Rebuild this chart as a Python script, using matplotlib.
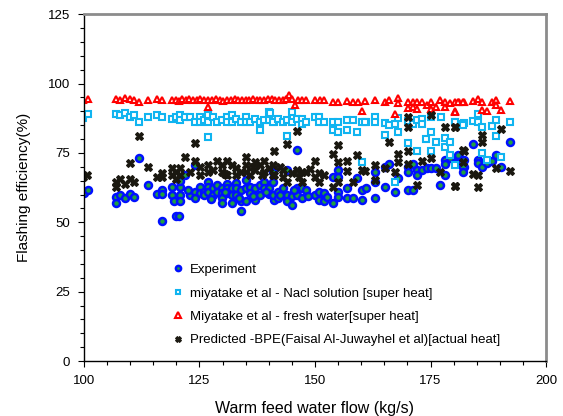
import matplotlib
matplotlib.use("Agg")
import matplotlib.pyplot as plt
from matplotlib.ticker import MultipleLocator

plt.rcParams['font.family'] = ['Liberation Sans', 'DejaVu Sans']

# Experiment
exp_x = [100.0, 100.8, 106.9, 106.9, 107.9, 109.0, 110.0, 110.9, 112.0, 113.9, 115.9, 116.9,
         116.9, 116.9, 119.0, 119.0, 119.9, 120.5, 119.5, 120.8, 120.8, 120.8, 120.8, 121.9, 122.9,
         124.0, 124.0, 124.0, 125.1, 125.1, 126.0, 126.0, 126.9, 126.9, 126.9, 128.0,
         128.0, 128.9, 128.9, 129.9, 129.9, 129.9, 129.9, 131.0, 131.0, 131.0, 132.0,
         132.0, 132.0, 133.0, 133.0, 133.0, 134.0, 134.0, 134.0, 135.1, 135.1, 135.1,
         135.9, 135.9, 137.0, 137.0, 138.1, 138.1, 139.0, 139.0, 140.1, 140.1, 141.1,
         141.0, 141.0, 141.0, 142.1, 142.1, 143.1, 143.1, 144.0, 144.0, 144.0,
         145.0, 145.0, 146.0, 146.0, 146.0, 147.1, 147.1, 148.1, 150.0, 150.9, 150.9,
         151.9, 151.9, 154.0, 154.0, 155.0, 155.0, 155.0, 155.0, 157.0, 157.0, 158.2,
         159.0, 160.1, 160.1, 161.0, 163.0, 163.0, 163.0, 165.2, 165.2, 166.0, 167.2,
         168.0, 170.1, 170.1, 170.1, 171.1, 171.1, 172.1, 172.1, 173.1, 174.2, 175.1,
         176.2, 177.1, 178.1, 178.1, 178.1, 179.2, 180.2, 181.2, 182.3, 182.3, 184.1,
         181.0, 182.1, 182.1, 185.2, 185.2, 186.2, 187.2, 188.2, 189.1, 190.2, 192.1,
         122.5, 127.5, 130.5, 133.5, 136.5, 139.5, 142.5, 145.5, 148.5, 152.5]
exp_y = [60.5, 61.6, 59.0, 56.9, 59.7, 58.7, 60.2, 59.0, 73.1, 63.5, 60.2, 61.7,
         60.2, 50.3, 62.9, 59.7, 52.1, 52.1, 57.8, 62.9, 59.7, 57.5, 64.8, 66.9, 59.7,
         70.5, 60.9, 58.7, 62.7, 60.5, 61.1, 59.7, 64.7, 62.7, 60.9, 62.3,
         59.7, 63.5, 61.1, 62.3, 60.5, 58.7, 56.9, 63.8, 62.3, 60.5, 62.3,
         60.0, 56.9, 64.1, 62.3, 60.0, 61.7, 57.5, 54.1, 65.3, 62.3, 57.5,
         62.9, 60.5, 62.3, 58.1, 63.5, 60.0, 64.7, 62.3, 62.3, 60.2, 58.1,
         68.3, 64.7, 60.0, 61.1, 58.7, 62.3, 60.0, 68.9, 60.0, 57.5,
         59.4, 56.3, 76.1, 62.3, 60.0, 62.3, 58.7, 61.7, 60.0, 61.1, 58.1,
         60.5, 57.5, 66.5, 56.9, 68.9, 66.5, 61.1, 59.0, 62.3, 58.7, 58.7,
         65.9, 61.7, 58.1, 62.3, 68.3, 64.4, 58.7, 70.1, 62.9, 71.0, 61.1,
         65.9, 70.1, 68.3, 61.7, 71.0, 61.7, 68.9, 66.9, 68.9, 69.5, 69.5,
         69.5, 63.3, 72.5, 71.0, 67.1, 73.1, 71.3, 73.7, 72.5, 70.1, 78.2,
         74.1, 70.1, 68.3, 72.5, 71.3, 70.1, 71.3, 72.1, 74.1, 70.1, 79.1,
         61.5, 58.5, 61.0, 58.8, 59.5, 61.0, 59.8, 61.8, 59.5, 59.2]

# miyatake et al - Nacl solution
nacl_x = [99.9, 100.9, 106.9, 107.9, 109.0, 110.0, 110.9, 112.0, 113.9, 115.9, 116.9, 119.0,
          119.9, 120.8, 120.8, 121.9, 122.9, 124.0, 125.1, 125.1, 126.0, 126.9, 126.9, 128.0,
          128.9, 129.9, 131.0, 131.0, 132.0, 132.0, 133.0, 134.0, 135.1, 135.1, 135.9, 137.0,
          138.1, 138.1, 139.0, 140.1, 140.1, 141.1, 126.9, 140.3, 141.0, 142.1, 143.1, 144.0,
          145.0, 145.0, 146.0, 147.1, 147.1, 148.1, 150.0, 150.9, 150.9, 151.9, 154.0, 154.0,
          155.0, 155.0, 157.0, 157.0, 158.2, 159.0, 160.1, 161.0, 144.0, 160.1, 160.8, 163.0,
          163.0, 165.2, 166.0, 167.2, 168.0, 168.0, 165.2, 170.1, 171.1, 172.1, 173.1, 173.1,
          175.1, 175.1, 174.0, 176.2, 177.3, 178.1, 178.1, 179.2, 180.2, 181.2, 182.3, 170.1,
          172.1, 175.1, 179.2, 180.2, 167.2, 180.3, 182.1, 184.1, 185.2, 185.2, 186.2, 188.2,
          189.1, 189.1, 192.1, 186.2, 187.2, 190.2]
nacl_y = [87.5, 89.0, 89.0, 88.5, 89.3, 87.8, 88.5, 86.1, 88.1, 88.5, 87.8, 87.3,
          88.1, 88.7, 86.9, 87.8, 88.1, 86.3, 88.1, 86.3, 86.9, 88.5, 86.3, 87.8,
          86.3, 86.9, 87.8, 86.3, 88.7, 86.3, 87.3, 86.3, 87.8, 86.3, 86.3, 87.3,
          83.3, 86.3, 86.9, 89.7, 86.9, 86.3, 80.6, 89.3, 86.3, 87.3, 86.3, 86.9,
          89.9, 86.3, 87.3, 87.3, 85.4, 86.3, 87.8, 87.8, 86.1, 86.3, 86.3, 83.3,
          86.3, 82.7, 86.9, 83.3, 86.9, 82.7, 86.3, 86.3, 81.0, 71.7, 86.3, 87.8,
          86.3, 85.7, 85.1, 85.4, 87.5, 82.7, 81.5, 86.6, 85.4, 86.9, 87.3, 85.4,
          87.8, 82.5, 80.1, 78.9, 87.8, 80.3, 77.3, 79.1, 86.3, 85.4, 85.7, 78.5,
          75.8, 75.8, 74.3, 70.5, 64.5, 86.3, 85.1, 86.6, 89.0, 86.3, 84.4, 84.8,
          86.9, 81.0, 86.1, 75.0, 72.5, 73.7]

# Miyatake et al - fresh water
fresh_x = [99.9, 100.9, 106.9, 107.9, 109.0, 110.0, 110.9, 112.0, 113.9, 115.9, 116.9, 119.0,
           119.9, 120.5, 121.2, 122.0, 122.8, 123.6, 124.4, 125.2, 126.0, 126.9, 126.9, 127.8,
           128.6, 129.4, 130.2, 131.0, 131.8, 132.6, 133.4, 134.2, 135.0, 135.8, 136.6, 137.4,
           138.2, 139.0, 139.8, 140.6, 141.4, 142.2, 143.0, 143.8, 144.4, 145.0, 145.6, 146.4,
           147.2, 148.0, 150.0, 151.0, 152.0, 154.0, 155.0, 157.0, 158.2, 159.2, 160.1, 160.8,
           163.0, 165.2, 166.0, 167.2, 168.0, 168.0, 170.1, 170.1, 171.1, 171.1, 172.1, 172.1,
           173.1, 174.2, 175.1, 175.1, 176.2, 177.1, 178.1, 178.1, 179.2, 180.2, 181.2, 182.3,
           180.3, 181.0, 182.1, 184.1, 185.2, 186.2, 186.2, 187.2, 188.2, 189.1, 189.1, 190.2,
           192.1, 180.3]
fresh_y = [94.1, 94.5, 94.5, 94.1, 94.7, 94.5, 94.1, 93.5, 94.1, 94.5, 94.1, 94.1,
           94.1, 93.8, 94.3, 94.0, 94.4, 94.1, 93.9, 94.3, 94.0, 94.2, 91.7, 94.0,
           94.3, 94.0, 93.8, 94.2, 94.0, 94.4, 94.0, 94.2, 93.9, 94.1, 94.3, 93.9,
           94.1, 94.0, 94.3, 94.5, 94.0, 94.2, 93.9, 94.4, 95.7, 94.3, 92.3, 94.0,
           94.2, 93.9, 94.1, 94.1, 94.1, 93.3, 93.3, 93.8, 93.3, 93.5, 90.2, 93.8,
           94.1, 93.5, 94.1, 89.0, 94.7, 92.9, 93.5, 91.1, 93.5, 91.7, 93.3, 90.9,
           93.5, 92.3, 93.5, 90.9, 91.7, 94.1, 93.5, 91.7, 92.9, 90.0, 93.5, 93.5,
           93.3, 93.3, 93.5, 93.8, 94.5, 93.5, 90.5, 90.2, 93.3, 94.1, 92.3, 90.5,
           93.8, 89.7]

# Predicted -BPE(Faisal Al-Juwayhel et al)
pred_x = [99.9, 100.7, 106.9, 106.9, 107.9, 109.0, 110.0, 110.0, 110.9, 112.0, 113.9, 115.9,
          116.9, 116.9, 119.0, 119.0, 119.9, 119.9, 124.0, 121.9, 124.0, 120.8, 120.8, 122.9,
          125.1, 125.1, 126.9, 126.9, 128.9, 129.9, 129.9, 131.0, 131.0, 132.0, 133.0, 133.0,
          135.1, 135.1, 135.1, 135.9, 137.0, 137.0, 138.1, 139.0, 139.0, 140.1, 141.1, 141.1,
          146.0, 141.0, 144.0, 141.0, 143.1, 143.1, 144.0, 145.0, 146.0, 147.1, 147.1, 148.1,
          150.0, 150.0, 150.9, 150.9, 151.9, 154.0, 154.0, 155.0, 155.0, 155.0, 157.0, 157.0,
          158.2, 159.0, 160.1, 170.1, 170.1, 175.1, 178.1, 180.2, 166.0, 168.0, 168.0, 170.1,
          170.1, 173.1, 175.1, 160.8, 163.0, 163.0, 165.2, 167.2, 172.1, 177.1, 180.2, 182.3,
          180.3, 186.1, 186.1, 182.1, 182.1, 184.1, 185.2, 185.2, 189.1, 190.2, 192.1, 180.3,
          128.0, 130.5, 134.0, 136.5, 138.6, 142.5, 146.5, 149.0]
pred_y = [66.2, 66.9, 64.5, 62.9, 65.7, 63.8, 71.3, 65.7, 64.5, 81.2, 69.8, 66.2,
          67.7, 66.2, 69.5, 66.9, 68.3, 65.7, 78.5, 73.7, 72.2, 69.5, 66.9, 68.1,
          69.8, 66.9, 70.5, 68.3, 72.2, 70.7, 68.3, 72.2, 66.9, 70.7, 69.5, 66.9,
          73.7, 70.7, 68.3, 66.9, 71.7, 68.9, 70.5, 72.2, 68.3, 69.5, 75.8, 66.9,
          83.0, 70.5, 78.2, 66.9, 68.9, 66.5, 64.7, 67.7, 68.9, 68.1, 64.5, 68.3,
          72.2, 66.2, 67.7, 64.7, 66.9, 74.6, 62.9, 77.7, 71.7, 64.7, 72.2, 68.6,
          64.7, 74.3, 68.9, 88.1, 84.2, 88.7, 84.5, 84.2, 79.1, 74.6, 71.7, 75.8,
          71.0, 72.2, 73.3, 68.6, 70.7, 65.3, 69.5, 68.1, 63.5, 68.3, 63.1, 75.8,
          84.2, 81.5, 79.1, 76.1, 71.7, 67.5, 66.9, 62.9, 69.5, 83.7, 68.6, 63.1,
          68.8, 67.5, 68.2, 69.8, 67.2, 70.0, 66.5, 69.2]

fig = plt.figure(figsize=(5.63, 4.16), dpi=100)
ax = fig.add_axes([0.149, 0.132, 0.821, 0.834])

ax.plot(exp_x, exp_y, 'o', ms=5, mfc='#1fa040', mec='#0010ff', mew=1.8, ls='none',
        label='Experiment')
ax.plot(nacl_x, nacl_y, 's', ms=4.8, mfc='white', mec='#10b4f0', mew=1.5, ls='none',
        label='miyatake et al - Nacl solution [super heat]')
ax.plot(fresh_x, fresh_y, '^', ms=5, mfc='white', mec='#ff0000', mew=1.5, ls='none',
        label='Miyatake et al - fresh water[super heat]')
ax.plot(pred_x, pred_y, 'X', ms=5.5, mfc='#1a1810', mec='#1a1810', mew=0.8, ls='none',
        label='Predicted -BPE(Faisal Al-Juwayhel et al)[actual heat]')

ax.set_xlim(100, 200)
ax.set_ylim(0, 125)
ax.xaxis.set_major_locator(MultipleLocator(25))
ax.xaxis.set_minor_locator(MultipleLocator(5))
ax.yaxis.set_major_locator(MultipleLocator(25))
ax.yaxis.set_minor_locator(MultipleLocator(5))
ax.tick_params(which='major', direction='out', length=4, width=0.8, labelsize=9.5, pad=6)
ax.tick_params(which='minor', direction='out', length=3, width=0.8)

for s in ['left', 'bottom']:
    ax.spines[s].set_color('black')
    ax.spines[s].set_linewidth(1.0)
for s in ['top', 'right']:
    ax.spines[s].set_color('#8c8c8c')
    ax.spines[s].set_linewidth(2.0)

ax.set_xlabel('Warm feed water flow (kg/s)', fontsize=11.5, labelpad=10)
ax.set_ylabel('Flashing efficiency(%)', fontsize=11, labelpad=12)

leg = ax.legend(loc='lower left', bbox_to_anchor=(0.17, 0.008), frameon=False, fontsize=9.5,
                handlelength=0.6, handletextpad=0.6, labelspacing=0.85, markerscale=0.75)

fig.savefig('out.png', dpi=100)
